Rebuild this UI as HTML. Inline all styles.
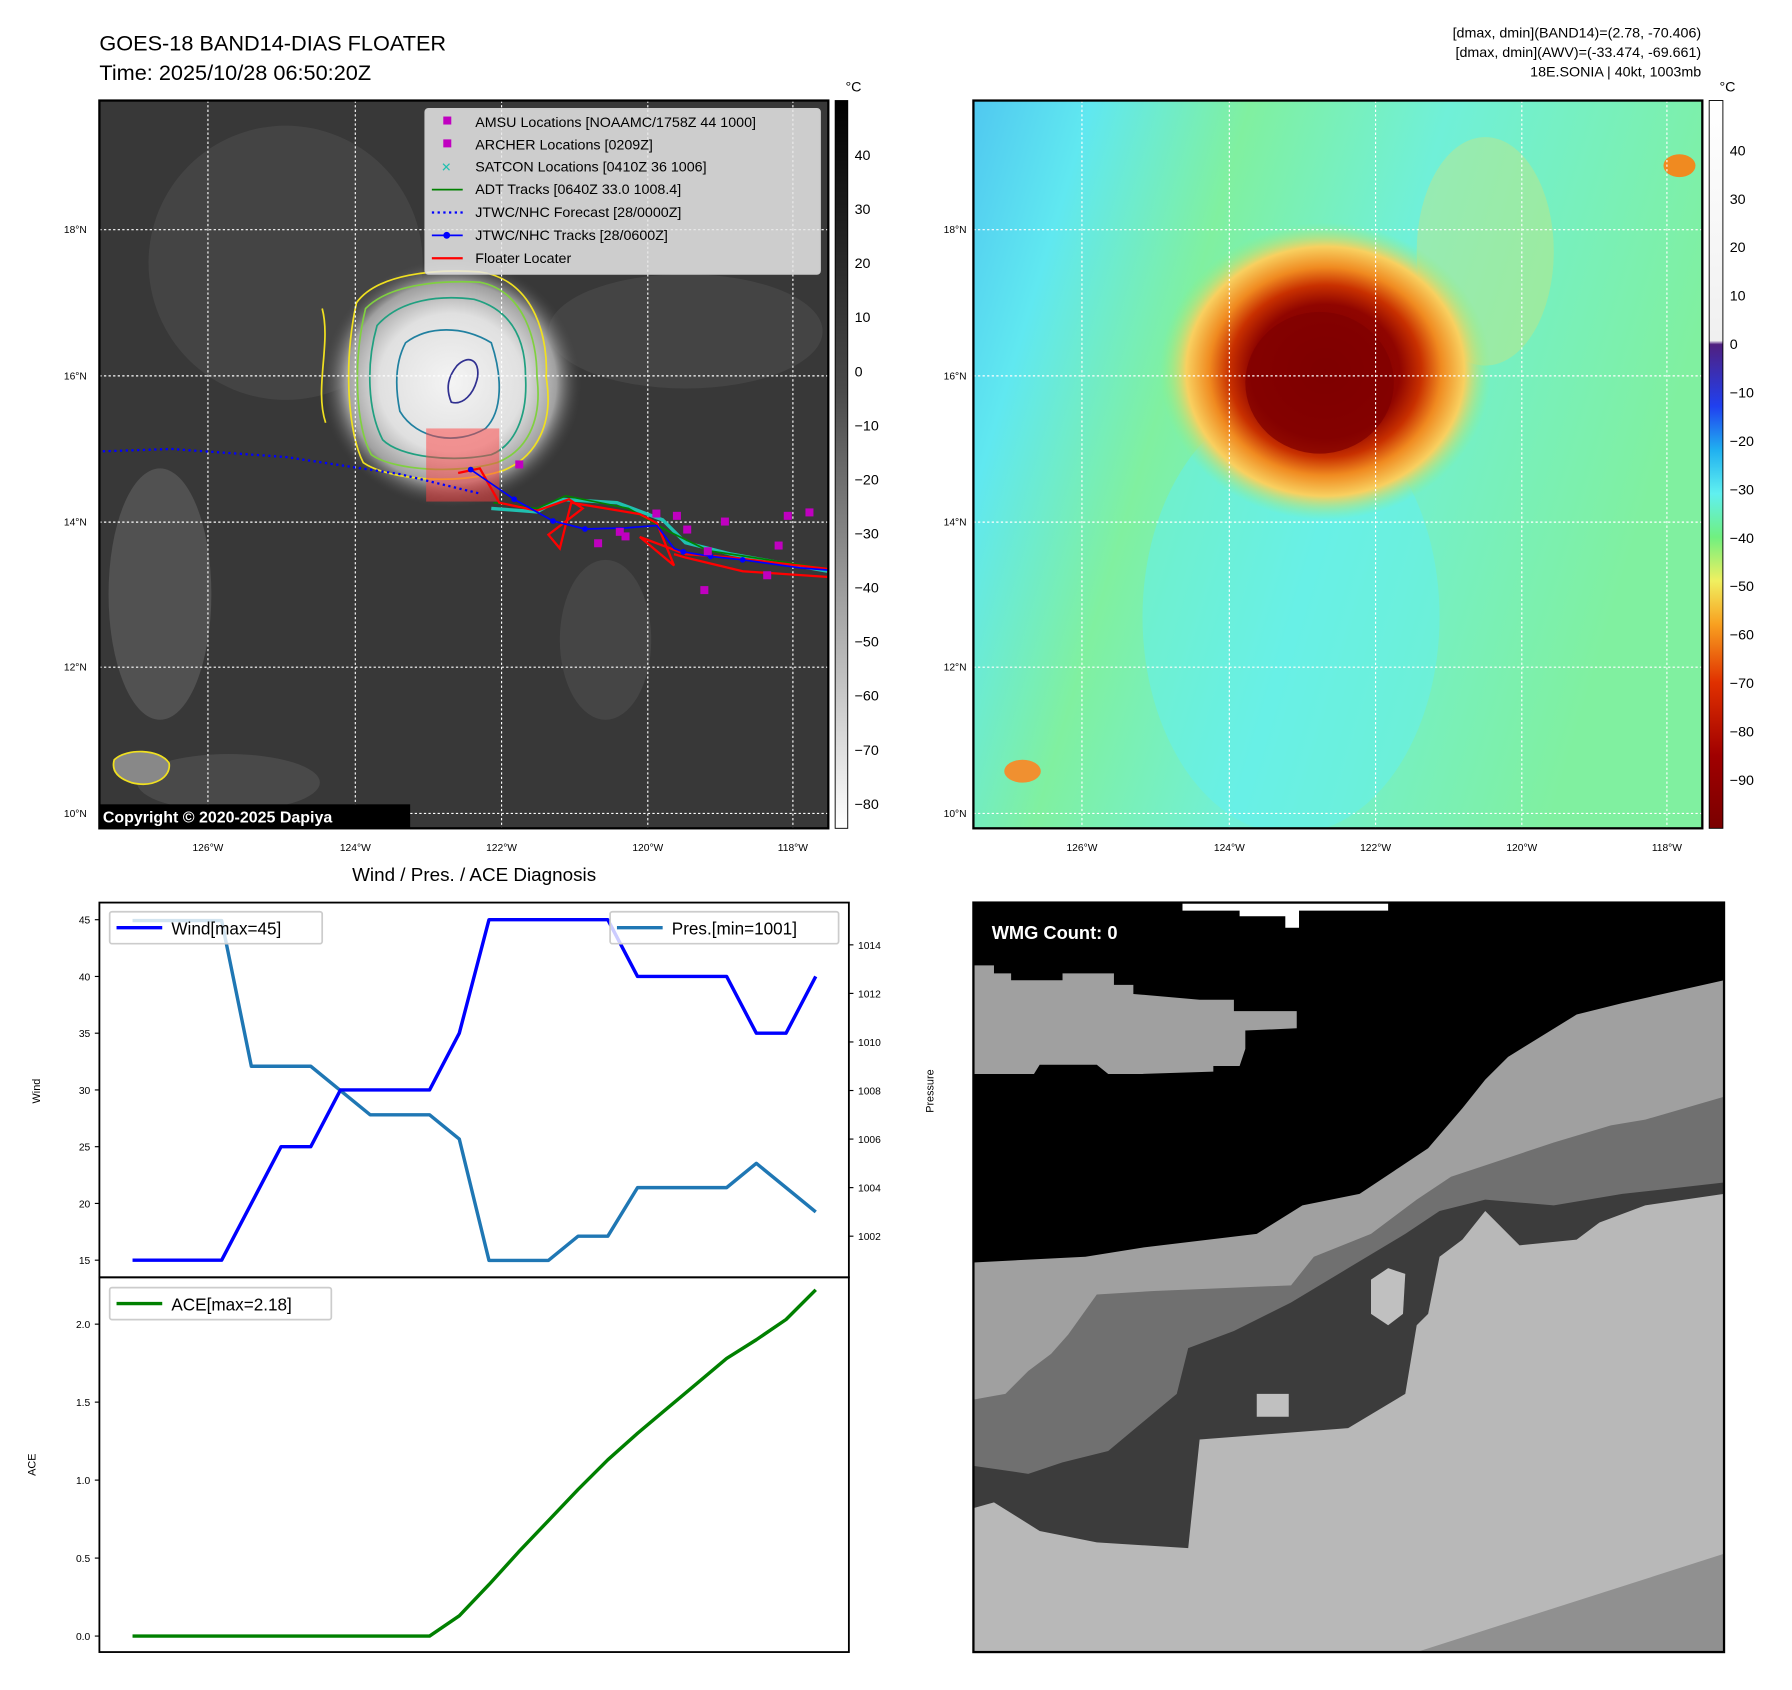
<!DOCTYPE html>
<html><head><meta charset="utf-8"><style>
html,body{margin:0;padding:0;background:#fff;}
svg{display:block;font-family:"Liberation Sans","DejaVu Sans",sans-serif;}
</style></head><body>
<svg id="root" width="1792" height="1690" viewBox="0 0 1792 1690" xmlns="http://www.w3.org/2000/svg">
<defs>
<radialGradient id="cloud" cx="0.5" cy="0.5" r="0.5">
<stop offset="0" stop-color="#f4f4f4"/><stop offset="0.55" stop-color="#e0e0e0"/><stop offset="0.8" stop-color="#a0a0a0"/><stop offset="1" stop-color="#3a3a3a" stop-opacity="0"/></radialGradient>
<radialGradient id="hot" cx="0.5" cy="0.5" r="0.5">
<stop offset="0" stop-color="#7a0000"/><stop offset="0.45" stop-color="#900500"/><stop offset="0.58" stop-color="#c83000"/><stop offset="0.7" stop-color="#f08a20"/><stop offset="0.84" stop-color="#f8d060"/><stop offset="1" stop-color="#90f080" stop-opacity="0"/></radialGradient>
<linearGradient id="ir2bg" x1="0" y1="0" x2="1" y2="0.3">
<stop offset="0" stop-color="#50c8f0"/><stop offset="0.15" stop-color="#60e8f0"/><stop offset="0.35" stop-color="#80f0a0"/><stop offset="0.6" stop-color="#70f0d8"/><stop offset="1" stop-color="#80f0a0"/></linearGradient>
<linearGradient id="cb1" x1="0" y1="0" x2="0" y2="1"><stop offset="0" stop-color="#000"/><stop offset="0.4" stop-color="#4a4a4a"/><stop offset="1" stop-color="#fff"/></linearGradient>
<linearGradient id="cb2" x1="0" y1="0" x2="0" y2="1">
<stop offset="0" stop-color="#fff"/><stop offset="0.33" stop-color="#f0f0f0"/><stop offset="0.335" stop-color="#502080"/><stop offset="0.42" stop-color="#2040f0"/><stop offset="0.48" stop-color="#20b0f0"/><stop offset="0.54" stop-color="#60f0f0"/><stop offset="0.6" stop-color="#70f080"/><stop offset="0.66" stop-color="#f0f060"/><stop offset="0.72" stop-color="#f8a020"/><stop offset="0.8" stop-color="#e03000"/><stop offset="0.9" stop-color="#a00000"/><stop offset="1" stop-color="#7a0000"/></linearGradient>
<clipPath id="c1"><rect x="87" y="88" width="638" height="637"/></clipPath>
<clipPath id="c2"><rect x="852" y="88" width="638" height="637"/></clipPath>
</defs>
<g transform="scale(1.1425)">
<text x="87" y="44" font-size="19">GOES-18 BAND14-DIAS FLOATER</text>
<text x="87" y="70" font-size="19">Time: 2025/10/28 06:50:20Z</text>
<g font-size="12.5" text-anchor="end">
<text x="1489" y="33">[dmax, dmin](BAND14)=(2.78, -70.406)</text>
<text x="1489" y="50">[dmax, dmin](AWV)=(-33.474, -69.661)</text>
<text x="1489" y="67">18E.SONIA | 40kt, 1003mb</text></g>

<!-- Map 1 -->
<g clip-path="url(#c1)">
<rect x="87" y="88" width="638" height="637" fill="#383838"/>
<ellipse cx="250" cy="230" rx="120" ry="120" fill="#4c4c4c" opacity="0.6"/>
<ellipse cx="140" cy="520" rx="45" ry="110" fill="#6a6a6a" opacity="0.5"/>
<ellipse cx="600" cy="290" rx="120" ry="50" fill="#4c4c4c" opacity="0.6"/>
<ellipse cx="530" cy="560" rx="40" ry="70" fill="#5a5a5a" opacity="0.4"/>
<ellipse cx="200" cy="685" rx="80" ry="25" fill="#5a5a5a" opacity="0.5"/>
<ellipse cx="395" cy="335" rx="115" ry="110" fill="url(#cloud)"/>
<path d="M312,265 C330,240 380,235 420,238 C470,245 480,300 478,330 C485,370 470,400 440,412 C400,425 340,420 318,405 C305,380 300,320 312,265Z" fill="none" stroke="#f0e020" stroke-width="1.5"/>
<path d="M320,270 C340,250 380,245 420,247 C460,255 470,300 470,330 C475,370 460,395 435,405 C400,415 345,412 325,398 C312,375 308,320 320,270Z" fill="none" stroke="#80d040" stroke-width="1.5"/>
<path d="M330,285 C350,262 385,258 415,262 C450,272 460,300 460,330 C462,365 450,390 430,398 C395,405 350,400 335,385 C322,360 320,320 330,285Z" fill="none" stroke="#20a080" stroke-width="1.5"/>
<path d="M355,300 C375,285 405,285 430,300 C440,330 440,360 425,375 C400,390 365,385 350,360 C345,335 347,315 355,300Z" fill="none" stroke="#2080a0" stroke-width="1.5"/>
<path d="M400,320 C410,310 420,315 418,330 C415,345 405,355 395,352 C390,340 392,330 400,320Z" fill="none" stroke="#303090" stroke-width="1.5"/>
<path d="M282,270 C290,300 275,340 285,370" fill="none" stroke="#f0e020" stroke-width="1.5"/>
<path d="M100,665 C110,655 140,655 148,668 C150,680 135,690 115,685 C100,680 98,672 100,665Z" fill="#888" stroke="#f0e020" stroke-width="1.5"/>
<rect x="373" y="375" width="64" height="64" fill="#ff4040" opacity="0.5"/>
<g stroke="#fff" stroke-width="1" stroke-dasharray="2,2">
<line x1="182" y1="88" x2="182" y2="725"/><line x1="311" y1="88" x2="311" y2="725"/><line x1="439" y1="88" x2="439" y2="725"/><line x1="567" y1="88" x2="567" y2="725"/><line x1="694" y1="88" x2="694" y2="725"/>
<line x1="87" y1="201" x2="725" y2="201"/><line x1="87" y1="329" x2="725" y2="329"/><line x1="87" y1="457" x2="725" y2="457"/><line x1="87" y1="584" x2="725" y2="584"/><line x1="87" y1="712" x2="725" y2="712"/></g>
<polyline points="90,395 150,393 250,400 350,415 420,432" fill="none" stroke="#0000ff" stroke-width="2" stroke-dasharray="2,3"/>
<polyline points="430,445 470,448 490,437 540,440 580,455 600,475 640,485 725,500" fill="none" stroke="#20c0b0" stroke-width="3"/>
<polyline points="432,440 470,445 495,434 550,445 585,465 620,482 725,498" fill="none" stroke="#008000" stroke-width="1.5"/>
<polyline points="401,414 420,410 437,440 470,447 498,437 510,445 480,468 490,480 500,440 560,450 575,458 590,495 560,470 600,485 640,488 725,498 725,505 650,500 600,488 590,485" fill="none" stroke="#ff0000" stroke-width="2"/>
<polyline points="412,411 450,437 484,456 512,463 548,462 575,460 590,480 598,483 622,487 650,490 700,497 725,499" fill="none" stroke="#0000ff" stroke-width="1.5"/>
<g fill="#0000ff"><circle cx="412" cy="411" r="2.5"/><circle cx="450" cy="437" r="2.5"/><circle cx="484" cy="456" r="2.5"/><circle cx="512" cy="463" r="2.5"/><circle cx="598" cy="483" r="2.5"/><circle cx="622" cy="487" r="2.5"/><circle cx="650" cy="490" r="2.5"/></g>
<g fill="#c000c0">
<rect x="451" y="403" width="7" height="7"/><rect x="571" y="446" width="7" height="7"/><rect x="589" y="448" width="7" height="7"/><rect x="631" y="453" width="7" height="7"/><rect x="544" y="466" width="7" height="7"/><rect x="520" y="472" width="7" height="7"/><rect x="598" y="460" width="7" height="7"/><rect x="616" y="479" width="7" height="7"/><rect x="686" y="448" width="7" height="7"/><rect x="705" y="445" width="7" height="7"/><rect x="678" y="474" width="7" height="7"/><rect x="613" y="513" width="7" height="7"/><rect x="668" y="500" width="7" height="7"/><rect x="539" y="462" width="7" height="7"/></g>
<rect x="87" y="704" width="272" height="21" fill="#000"/>
<text x="90" y="720" fill="#fff" font-size="14" font-weight="bold">Copyright © 2020-2025 Dapiya</text>
</g>
<rect x="87" y="88" width="638" height="637" fill="none" stroke="#000" stroke-width="2"/>
<g>
<rect x="372" y="95" width="346" height="145" rx="3" fill="#e8e8e8" fill-opacity="0.85" stroke="#ccc"/>
<g font-size="12.5">
<rect x="388" y="102" width="7" height="7" fill="#c000c0"/><text x="416" y="111">AMSU Locations [NOAAMC/1758Z 44 1000]</text>
<rect x="388" y="122" width="7" height="7" fill="#c000c0"/><text x="416" y="131">ARCHER Locations [0209Z]</text>
<text x="386" y="150" fill="#20c0b0" font-size="11" font-weight="bold">✕</text><text x="416" y="150">SATCON Locations [0410Z 36 1006]</text>
<line x1="378" y1="166" x2="405" y2="166" stroke="#008000" stroke-width="1.5"/><text x="416" y="170">ADT Tracks [0640Z 33.0 1008.4]</text>
<line x1="378" y1="186" x2="405" y2="186" stroke="#0000ff" stroke-width="2" stroke-dasharray="2,3"/><text x="416" y="190">JTWC/NHC Forecast [28/0000Z]</text>
<line x1="378" y1="206" x2="405" y2="206" stroke="#0000ff" stroke-width="1.5"/><circle cx="391" cy="206" r="3" fill="#0000ff"/><text x="416" y="210">JTWC/NHC Tracks [28/0600Z]</text>
<line x1="378" y1="226" x2="405" y2="226" stroke="#ff0000" stroke-width="2"/><text x="416" y="230">Floater Locater</text></g></g>

<!-- colorbar 1 -->
<rect x="731" y="88" width="11" height="637" fill="url(#cb1)" stroke="#000" stroke-width="0.8"/>
<text x="740" y="80" font-size="12.5">°C</text>
<g id="cb1ticks" font-size="12.5"></g>

<!-- Map 2 -->
<g clip-path="url(#c2)">
<rect x="852" y="88" width="638" height="637" fill="url(#ir2bg)"/>
<ellipse cx="1130" cy="540" rx="130" ry="190" fill="#60f0f8" opacity="0.45"/>
<ellipse cx="1300" cy="220" rx="60" ry="100" fill="#f0e060" opacity="0.3"/>
<ellipse cx="1160" cy="325" rx="145" ry="130" fill="url(#hot)"/>
<ellipse cx="1155" cy="335" rx="65" ry="62" fill="#800000" opacity="0.75"/>
<ellipse cx="1470" cy="145" rx="14" ry="10" fill="#f08a20"/>
<ellipse cx="895" cy="675" rx="16" ry="10" fill="#f09030"/>
<g stroke="#fff" stroke-width="1" stroke-dasharray="2,2">
<line x1="947" y1="88" x2="947" y2="725"/><line x1="1076" y1="88" x2="1076" y2="725"/><line x1="1204" y1="88" x2="1204" y2="725"/><line x1="1332" y1="88" x2="1332" y2="725"/><line x1="1459" y1="88" x2="1459" y2="725"/>
<line x1="852" y1="201" x2="1490" y2="201"/><line x1="852" y1="329" x2="1490" y2="329"/><line x1="852" y1="457" x2="1490" y2="457"/><line x1="852" y1="584" x2="1490" y2="584"/><line x1="852" y1="712" x2="1490" y2="712"/></g>
</g>
<rect x="852" y="88" width="638" height="637" fill="none" stroke="#000" stroke-width="2"/>
<rect x="1496" y="88" width="12" height="637" fill="url(#cb2)" stroke="#000" stroke-width="0.8"/>
<text x="1505" y="80" font-size="12.5">°C</text>
<g id="cb2ticks" font-size="12.5"></g>

<!-- map tick labels -->
<g font-size="9" >
<g text-anchor="end"><text x="76" y="204">18°N</text><text x="76" y="332">16°N</text><text x="76" y="460">14°N</text><text x="76" y="587">12°N</text><text x="76" y="715">10°N</text>
<text x="846" y="204">18°N</text><text x="846" y="332">16°N</text><text x="846" y="460">14°N</text><text x="846" y="587">12°N</text><text x="846" y="715">10°N</text></g>
<g text-anchor="middle"><text x="182" y="745">126°W</text><text x="311" y="745">124°W</text><text x="439" y="745">122°W</text><text x="567" y="745">120°W</text><text x="694" y="745">118°W</text>
<text x="947" y="745">126°W</text><text x="1076" y="745">124°W</text><text x="1204" y="745">122°W</text><text x="1332" y="745">120°W</text><text x="1459" y="745">118°W</text></g></g>

<!-- Diagnosis chart -->
<text x="415" y="771" font-size="16.5" text-anchor="middle">Wind / Pres. / ACE Diagnosis</text>
<g id="chart"></g>

<!-- WMG panel -->
<g>
<rect x="852" y="790" width="657" height="656" fill="#000"/>
<polygon points="1035,790 1215,790 1215,797 1137,797 1137,812 1125,812 1125,802 1085,802 1085,797 1035,797" fill="#fff"/>
<polygon points="852,845 870,845 870,852 885,852 885,858 930,858 930,852 975,852 975,862 992,862 992,870 1050,875 1080,875 1080,885 1135,885 1135,900 1090,902 1090,918 1085,933 1062,933 1062,938 1000,940 970,940 960,932 910,932 905,940 852,940" fill="#a0a0a0"/>
<polygon points="852,1105 950,1100 1000,1092 1100,1080 1140,1055 1190,1045 1220,1025 1250,1005 1280,970 1300,945 1320,925 1380,888 1420,878 1509,858 1509,1446 852,1446" fill="#a0a0a0"/>
<polygon points="852,1225 880,1220 900,1200 920,1185 935,1168 960,1133 1010,1130 1130,1125 1150,1100 1200,1080 1240,1050 1270,1030 1300,1020 1360,1000 1410,985 1440,980 1509,960 1509,1446 852,1446" fill="#707070"/>
<polygon points="852,1283 900,1290 930,1280 970,1270 1030,1220 1040,1180 1080,1165 1130,1140 1180,1110 1230,1080 1260,1060 1300,1050 1360,1055 1420,1045 1509,1035 1509,1446 852,1446" fill="#3c3c3c"/>
<polygon points="852,1320 870,1315 910,1340 960,1350 1040,1355 1050,1260 1180,1250 1230,1220 1240,1160 1250,1150 1260,1100 1280,1085 1300,1060 1330,1090 1380,1085 1400,1070 1440,1055 1509,1045 1509,1446 852,1446" fill="#b8b8b8"/>
<polygon points="1200,1120 1215,1110 1230,1115 1228,1150 1215,1160 1200,1150" fill="#c0c0c0"/>
<polygon points="1100,1220 1128,1220 1128,1240 1100,1240" fill="#c0c0c0"/>
<polygon points="1240,1446 1509,1360 1509,1446" fill="#909090"/>
<text x="868" y="822" font-size="16" font-weight="bold" fill="#fff">WMG Count: 0</text>
</g>
<rect x="852" y="790" width="657" height="656" fill="none" stroke="#000" stroke-width="2"/>
</g>
</svg>
<script>
var ns='http://www.w3.org/2000/svg';
var cb1Labels=[40,30,20,10,0,-10,-20,-30,-40,-50,-60,-70,-80];
var cb2Labels=[40,30,20,10,0,-10,-20,-30,-40,-50,-60,-70,-80,-90];
var windVals=[15,15,15,15,20,25,25,30,30,30,30,35,45,45,45,45,45,40,40,40,40,35,35,40];
var presVals=[1015,1015,1015,1015,1009,1009,1009,1008,1007,1007,1007,1006,1001,1001,1001,1002,1002,1004,1004,1004,1004,1005,1004,1003];
var aceVals=[0,0,0,0,0,0,0,0,0,0,0,0.13,0.33,0.54,0.74,0.94,1.13,1.30,1.46,1.62,1.78,1.90,2.03,2.22];
var windTicks=[15,20,25,30,35,40,45];
var presTicks=[1002,1004,1006,1008,1010,1012,1014];
var aceTicks=[0.0,0.5,1.0,1.5,2.0];
function mk(tag,attrs,parent){var e=document.createElementNS(ns,tag);for(var k in attrs)e.setAttribute(k,attrs[k]);parent.appendChild(e);return e;}
function cb1y(v){return 136+(40-v)*(704-136)/120;}
function cb2y(v){return 132+(40-v)*(683-132)/130;}
var g1=document.getElementById('cb1ticks');
cb1Labels.forEach(function(v){var t=mk('text',{x:748,y:cb1y(v)+4},g1);t.textContent=(v<0?'\u2212'+(-v):v);

});
var g2=document.getElementById('cb2ticks');
cb2Labels.forEach(function(v){var t=mk('text',{x:1514,y:cb2y(v)+4},g2);t.textContent=(v<0?'\u2212'+(-v):v);

});
var L=87,R=743,T=790,M=1118,B=1446;
function xs(i){return 116+i*26;}
function yW(v){return 1103-(v-15)*(1103-805)/30;}
function yP(v){return 1082-(v-1002)*(1082-827)/12;}
function yA(v){return 1432-v*(1432-1159)/2;}
var c=document.getElementById('chart');
function axisTicks(ticks,fy,side,fmt,name){ticks.forEach(function(v){var y=fy(v);
if(side==='l'){mk('line',{x1:L-4,y1:y,x2:L,y2:y,stroke:'#000'},c);var t=mk('text',{x:L-8,y:y+3.5,'font-size':9,'text-anchor':'end'},c);}
else{mk('line',{x1:R,y1:y,x2:R+4,y2:y,stroke:'#000'},c);var t=mk('text',{x:R+8,y:y+3.5,'font-size':9},c);}
t.textContent=fmt(v);

});}
axisTicks(windTicks,yW,'l',function(v){return v;},'wind-tick-label');
axisTicks(presTicks,yP,'r',function(v){return v;},'pressure-tick-label');
axisTicks(aceTicks,yA,'l',function(v){return v.toFixed(1);},'ace-tick-label');
function line(vals,fy,color,name){var p=vals.map(function(v,i){return xs(i)+','+fy(v);}).join(' ');
var e=mk('polyline',{points:p,fill:'none',stroke:color,'stroke-width':3,'stroke-linejoin':'round'},c);

}
line(presVals,yP,'#1f77b4','pressure-line');
line(windVals,yW,'#0000ff','wind-line');
line(aceVals,yA,'#008000','ace-line');
mk('rect',{x:L,y:T,width:R-L,height:M-T,fill:'none',stroke:'#000','stroke-width':1.6},c);
mk('rect',{x:L,y:M,width:R-L,height:B-M,fill:'none',stroke:'#000','stroke-width':1.6},c);
function legend(x,y,w,color,label,name){var g=mk('g',{},c);


mk('rect',{x:x,y:y,width:w,height:28,rx:2,fill:'#fff','fill-opacity':0.8,stroke:'#ccc','stroke-width':1.5},g);
mk('line',{x1:x+6,y1:y+14,x2:x+46,y2:y+14,stroke:color,'stroke-width':3},g);
var t=mk('text',{x:x+54,y:y+20,'font-size':15},g);t.textContent=label;}
legend(96,798,186,'#0000ff','Wind[max=45]','wind-legend');
legend(534,798,200,'#1f77b4','Pres.[min=1001]','pressure-legend');
legend(96,1127,194,'#008000','ACE[max=2.18]','ace-legend');
function vlabel(x,y,txt,name){var t=mk('text',{x:x,y:y,'font-size':9.5,'text-anchor':'middle',transform:'rotate(-90 '+x+' '+y+')'},c);t.textContent=txt;

}
vlabel(35,955,'Wind','wind-axis-title');
vlabel(817,955,'Pressure','pressure-axis-title');
vlabel(31,1282,'ACE','ace-axis-title');
</script>
</body></html>
